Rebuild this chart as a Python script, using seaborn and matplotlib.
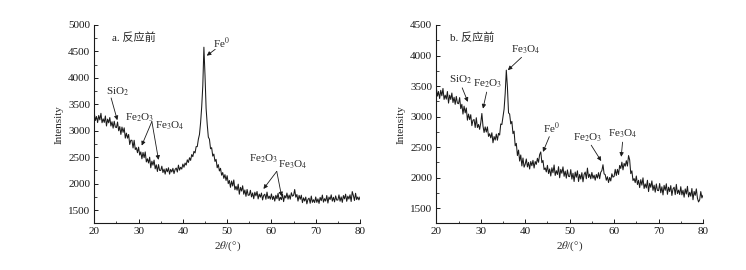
import numpy as np
import pandas as pd
import matplotlib
matplotlib.use("Agg")
import matplotlib.pyplot as plt
import seaborn as sns
from matplotlib.ticker import MultipleLocator

sns.set_theme(style="ticks")
plt.rcParams['font.family'] = ['Liberation Serif', 'Noto Sans CJK SC']
plt.rcParams['mathtext.fontset'] = 'stix'

# two-theta grid (0.25 degree steps) 20..80
two_theta = [20 + 0.25 * i for i in range(241)]

intensity_a = [
    3330, 3195, 3270, 3155, 3290, 3205, 3330, 3152, 3225, 3158, 3280, 3090, 3220, 3150, 3250, 3090, 3170, 3050, 3180, 3070,
    3060, 3165, 3000, 3080, 2930, 3070, 2970, 3055, 2860, 2955, 2860, 2930, 2740, 2820, 2820, 2675, 2820, 2645, 2680, 2585,
    2690, 2540, 2600, 2470, 2590, 2490, 2600, 2410, 2470, 2390, 2500, 2300, 2425, 2350, 2445, 2280, 2355, 2230, 2360, 2250,
    2250, 2330, 2210, 2275, 2180, 2285, 2225, 2300, 2180, 2270, 2220, 2290, 2190, 2270, 2295, 2220, 2350, 2255, 2310, 2275,
    2370, 2310, 2390, 2350, 2450, 2400, 2490, 2440, 2550, 2510, 2610, 2580, 2700, 2700, 2840, 2930, 3150, 3450, 3850, 4580,
    4050, 3420, 3120, 2880, 2840, 2660, 2680, 2520, 2560, 2420, 2460, 2300, 2360, 2240, 2290, 2160, 2210, 2100, 2170, 2060,
    2150, 2000, 2060, 1930, 2050, 1955, 2070, 1885, 1950, 1875, 1990, 1800, 1930, 1860, 1960, 1800, 1880, 1760, 1890, 1780,
    1783, 1874, 1749, 1824, 1715, 1838, 1769, 1852, 1711, 1802, 1744, 1822, 1692, 1778, 1800, 1704, 1840, 1718, 1764, 1707,
    1806, 1700, 1761, 1670, 1780, 1714, 1816, 1679, 1743, 1696, 1802, 1660, 1774, 1729, 1822, 1707, 1784, 1706, 1828, 1763,
    1778, 1889, 1744, 1794, 1670, 1778, 1704, 1782, 1641, 1732, 1671, 1746, 1618, 1704, 1726, 1629, 1765, 1646, 1696, 1642,
    1748, 1646, 1712, 1626, 1740, 1678, 1784, 1650, 1716, 1670, 1776, 1633, 1746, 1699, 1788, 1669, 1742, 1655, 1768, 1689,
    1690, 1787, 1668, 1749, 1646, 1775, 1712, 1801, 1666, 1763, 1708, 1789, 1662, 1850, 1776, 1681, 1818, 1699, 1748, 1692,
    1750,
]

intensity_b = [
    3470, 3335, 3410, 3295, 3430, 3340, 3460, 3280, 3350, 3285, 3410, 3220, 3350, 3280, 3385, 3230, 3315, 3200, 3330, 3220,
    3210, 3310, 3130, 3200, 3040, 3170, 3060, 3140, 2940, 3040, 2950, 3030, 2850, 2940, 2950, 2820, 2980, 2820, 2870, 2790,
    2896, 3050, 2846, 2738, 2830, 2746, 2830, 2674, 2718, 2650, 2734, 2570, 2672, 2614, 2712, 2612, 2724, 2696, 2878, 2868,
    2990, 3120, 3380, 3760, 3480, 3060, 3040, 2880, 2920, 2720, 2760, 2520, 2560, 2360, 2450, 2270, 2370, 2190, 2320, 2170,
    2218, 2304, 2174, 2249, 2140, 2263, 2194, 2282, 2156, 2262, 2216, 2316, 2250, 2376, 2420, 2244, 2280, 2130, 2158, 2092,
    2200, 2065, 2140, 2025, 2160, 2078, 2206, 2034, 2112, 2050, 2178, 1996, 2134, 2070, 2175, 2020, 2105, 1990, 2125, 2020,
    2015, 2130, 1975, 2070, 1935, 2090, 2005, 2110, 1935, 2050, 1975, 2080, 1930, 2050, 2090, 1980, 2155, 2000, 2055, 1980,
    2084, 1988, 2039, 1957, 2050, 1991, 2080, 1981, 2087, 2115, 2210, 2060, 2048, 1956, 2013, 1918, 2001, 1944, 2062, 2007,
    2018, 2134, 2034, 2134, 2050, 2198, 2149, 2252, 2126, 2232, 2186, 2276, 2188, 2360, 2290, 2064, 2110, 1950, 1983, 1917,
    2025, 1885, 1955, 1835, 1965, 1875, 1995, 1820, 1895, 1830, 1955, 1770, 1905, 1840, 1945, 1790, 1875, 1760, 1895, 1790,
    1785, 1902, 1750, 1848, 1715, 1872, 1790, 1898, 1725, 1842, 1770, 1868, 1706, 1814, 1842, 1720, 1888, 1736, 1794, 1722,
    1850, 1716, 1792, 1678, 1814, 1730, 1856, 1682, 1758, 1694, 1820, 1636, 1772, 1708, 1814, 1660, 1600, 1635, 1770, 1665,
    1710,
]

panel_titles = ["a. 反应前", "b. 反应前"]
x_ticks = [20, 30, 40, 50, 60, 70, 80]
y_ticks_a = [1500, 2000, 2500, 3000, 3500, 4000, 4500, 5000]
y_ticks_b = [1500, 2000, 2500, 3000, 3500, 4000, 4500]

# annotations: (label, text_xy, arrow_tip_xy)
ann_a = [
    (r"Fe$^{0}$", (48.8, 4660), (45.4, 4420)),
    (r"SiO$_2$", (25.3, 3740), (25.2, 3200)),
]
ann_a_pairs = [
    (r"Fe$_2$O$_3$", (30.2, 3240), r"Fe$_3$O$_4$", (37.1, 3100), (33.0, 3175), (30.7, 2720), (34.5, 2450)),
    (r"Fe$_2$O$_3$", (58.2, 2470), r"Fe$_3$O$_4$", (64.9, 2360), (61.2, 2232), (58.2, 1900), (62.3, 1760)),
]
ann_b = [
    (r"Fe$_3$O$_4$", (40.2, 4100), (36.1, 3760)),
    (r"SiO$_2$", (25.4, 3600), (27.1, 3240)),
    (r"Fe$_2$O$_3$", (31.6, 3530), (30.5, 3130)),
    (r"Fe$^{0}$", (45.9, 2800), (44.0, 2420)),
    (r"Fe$_2$O$_3$", (54.1, 2660), (57.1, 2270)),
    (r"Fe$_3$O$_4$", (62.0, 2710), (61.6, 2340)),
]

fig = plt.figure(figsize=(7.46, 2.70), dpi=100)
ax_a = fig.add_axes([94.3 / 746, 1 - 223.3 / 270, (360 - 94.3) / 746, (223.3 - 25) / 270])
ax_b = fig.add_axes([436.3 / 746, 1 - 223.3 / 270, (703 - 436.3) / 746, (223.3 - 25) / 270])

arrow_kw = dict(arrowstyle='-|>', lw=0.6, color='k', mutation_scale=6, shrinkA=0, shrinkB=0)
fs = 8

def style(ax, ylim, yticks, title, tx):
    ax.set_xlim(20, 80)
    ax.set_ylim(*ylim)
    ax.set_xticks(x_ticks)
    ax.set_yticks(yticks)
    ax.xaxis.set_minor_locator(MultipleLocator(5))
    ax.yaxis.set_minor_locator(MultipleLocator(250))
    ax.tick_params(direction='in', length=3, width=0.7, labelsize=fs, pad=3, colors='k')
    ax.tick_params(which='minor', direction='in', length=1.8, width=0.6)
    for s in ['top', 'right']:
        ax.spines[s].set_visible(False)
    for s in ['left', 'bottom']:
        ax.spines[s].set_linewidth(0.8)
        ax.spines[s].set_color('k')
    ax.set_xlabel(r"2$\theta$/(°)", fontsize=fs, labelpad=2)
    ax.set_ylabel("Intensity", fontsize=fs, labelpad=3)
    ax.text(tx, 0.965, title, transform=ax.transAxes, fontsize=fs, ha='left', va='top')
    ax.set_facecolor('white')

df_a = pd.DataFrame({"two_theta": two_theta, "intensity": intensity_a})
df_b = pd.DataFrame({"two_theta": two_theta, "intensity": intensity_b})
sns.lineplot(data=df_a, x="two_theta", y="intensity", ax=ax_a, color='k', lw=0.75)
sns.lineplot(data=df_b, x="two_theta", y="intensity", ax=ax_b, color='k', lw=0.75)

style(ax_a, (1250, 5000), y_ticks_a, panel_titles[0], 0.068)
style(ax_b, (1250, 4500), y_ticks_b, panel_titles[1], 0.05)

for lab, txy, tip in ann_a:
    ax_a.annotate("", xy=tip, xytext=(txy[0] - 1.5, txy[1] - 120), arrowprops=arrow_kw)
    ax_a.text(txy[0], txy[1], lab, fontsize=fs, ha='center', va='center')
for l1, t1, l2, t2, start, tip1, tip2 in ann_a_pairs:
    ax_a.text(t1[0], t1[1], l1, fontsize=fs, ha='center', va='center')
    ax_a.text(t2[0], t2[1], l2, fontsize=fs, ha='center', va='center')
    ax_a.annotate("", xy=tip1, xytext=start, arrowprops=arrow_kw)
    ax_a.annotate("", xy=tip2, xytext=start, arrowprops=arrow_kw)
for lab, txy, tip in ann_b:
    ax_b.text(txy[0], txy[1], lab, fontsize=fs, ha='center', va='center')
    sx = txy[0] + (tip[0] - txy[0]) * 0.25
    sy = txy[1] - 130
    ax_b.annotate("", xy=tip, xytext=(sx, sy), arrowprops=arrow_kw)

fig.savefig("out.png", dpi=100, facecolor='white')
